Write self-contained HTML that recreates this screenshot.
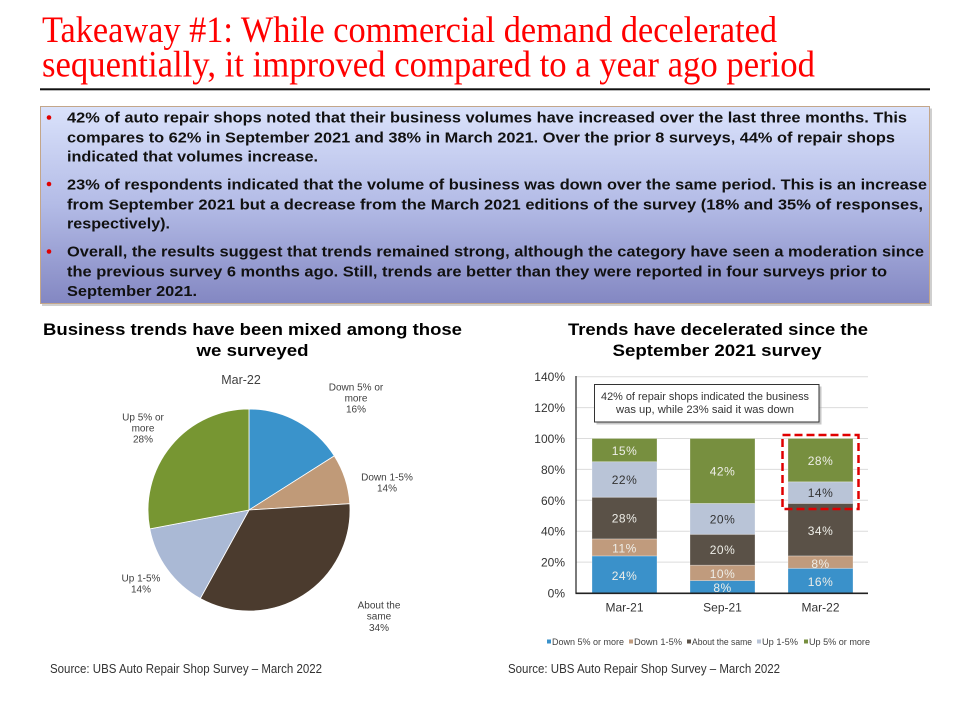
<!DOCTYPE html>
<html><head><meta charset="utf-8"><style>
html,body{margin:0;padding:0;background:#fff;}
svg{display:block;}
</style></head><body>
<svg width="968" height="708" viewBox="0 0 968 708" xmlns="http://www.w3.org/2000/svg">
<defs>
<linearGradient id="bg" x1="0" y1="0" x2="0" y2="1">
<stop offset="0" stop-color="#DAE2FB"/>
<stop offset="0.5" stop-color="#B3BBE6"/>
<stop offset="1" stop-color="#8387C2"/>
</linearGradient>
</defs>
<rect width="968" height="708" fill="#fff"/>
<!-- Title -->
<g font-family="Liberation Serif, serif" fill="#FF0000" font-size="37">
<text x="42" y="42" textLength="735" lengthAdjust="spacingAndGlyphs">Takeaway #1: While commercial demand decelerated</text>
<text x="42" y="76.5" textLength="773" lengthAdjust="spacingAndGlyphs">sequentially, it improved compared to a year ago period</text>
</g>
<rect x="40" y="88.3" width="890" height="2" fill="#111"/>
<!-- Bullet box -->
<rect x="42" y="108.5" width="890" height="197.5" fill="#a0a0a0" opacity="0.5"/>
<rect x="40.5" y="106.5" width="889" height="197" fill="url(#bg)" stroke="#C3A68A" stroke-width="1"/>
<g fill="#E00000">
<circle cx="49" cy="117.5" r="2.3"/>
<circle cx="49" cy="184" r="2.3"/>
<circle cx="49" cy="251.5" r="2.3"/>
</g>
<g font-family="Liberation Sans, sans-serif" font-weight="bold" font-size="15" fill="#111">
<text x="67" y="122.7" textLength="840" lengthAdjust="spacingAndGlyphs">42% of auto repair shops noted that their business volumes have increased over the last three months. This</text>
<text x="67" y="142.7" textLength="828" lengthAdjust="spacingAndGlyphs">compares to 62% in September 2021 and 38% in March 2021. Over the prior 8 surveys, 44% of repair shops</text>
<text x="67" y="161.7" textLength="251" lengthAdjust="spacingAndGlyphs">indicated that volumes increase.</text>
<text x="67" y="189.3" textLength="860" lengthAdjust="spacingAndGlyphs">23% of respondents indicated that the volume of business was down over the same period. This is an increase</text>
<text x="67" y="209.3" textLength="856" lengthAdjust="spacingAndGlyphs">from September 2021 but a decrease from the March 2021 editions of the survey (18% and 35% of responses,</text>
<text x="67" y="228.5" textLength="103" lengthAdjust="spacingAndGlyphs">respectively).</text>
<text x="67" y="256.7" textLength="857" lengthAdjust="spacingAndGlyphs">Overall, the results suggest that trends remained strong, although the category have seen a moderation since</text>
<text x="67" y="276.7" textLength="820" lengthAdjust="spacingAndGlyphs">the previous survey 6 months ago. Still, trends are better than they were reported in four surveys prior to</text>
<text x="67" y="296" textLength="130" lengthAdjust="spacingAndGlyphs">September 2021.</text>
</g>
<!-- Chart titles -->
<g font-family="Liberation Sans, sans-serif" font-weight="bold" font-size="16.5" fill="#000" text-anchor="middle">
<text x="252.5" y="335" textLength="419" lengthAdjust="spacingAndGlyphs">Business trends have been mixed among those</text>
<text x="252.5" y="356" textLength="112" lengthAdjust="spacingAndGlyphs">we surveyed</text>
<text x="718" y="335" textLength="300" lengthAdjust="spacingAndGlyphs">Trends have decelerated since the</text>
<text x="717" y="356" textLength="209" lengthAdjust="spacingAndGlyphs">September 2021 survey</text>
</g>
<!-- Pie -->
<g stroke="#fff" stroke-width="0.8">
<path d="M249,510 L249,409 A101,101 0 0 1 334.3,455.9 Z" fill="#3A93CB"/>
<path d="M249,510 L334.3,455.9 A101,101 0 0 1 349.8,503.7 Z" fill="#C09A78"/>
<path d="M249,510 L349.8,503.7 A101,101 0 0 1 200.3,598.5 Z" fill="#4B3B2E"/>
<path d="M249,510 L200.3,598.5 A101,101 0 0 1 149.8,528.9 Z" fill="#AAB9D5"/>
<path d="M249,510 L149.8,528.9 A101,101 0 0 1 249,409 Z" fill="#779632"/>
</g>
<g font-family="Liberation Sans, sans-serif" fill="#404040" text-anchor="middle">
<text x="241" y="384" font-size="12.5">Mar-22</text>
<g font-size="10">
<text x="356" y="390.5">Down 5% or</text>
<text x="356" y="401.5">more</text>
<text x="356" y="412.5">16%</text>
<text x="387" y="480.5">Down 1-5%</text>
<text x="387" y="491.5">14%</text>
<text x="379" y="608.5">About the</text>
<text x="379" y="619.5">same</text>
<text x="379" y="631">34%</text>
<text x="141" y="581.5">Up 1-5%</text>
<text x="141" y="592.5">14%</text>
<text x="143" y="420.5">Up 5% or</text>
<text x="143" y="431.5">more</text>
<text x="143" y="442.5">28%</text>
</g>
</g>
<!-- Bar chart grid -->
<g stroke="#DCDCDC" stroke-width="1">
<line x1="576" y1="376.7" x2="868" y2="376.7"/>
<line x1="576" y1="407.6" x2="868" y2="407.6"/>
<line x1="576" y1="438.5" x2="868" y2="438.5"/>
<line x1="576" y1="469.4" x2="868" y2="469.4"/>
<line x1="576" y1="500.3" x2="868" y2="500.3"/>
<line x1="576" y1="531.2" x2="868" y2="531.2"/>
<line x1="576" y1="562.1" x2="868" y2="562.1"/>
</g>
<g font-family="Liberation Sans, sans-serif" font-size="12" fill="#333" text-anchor="end">
<text x="565" y="381">140%</text>
<text x="565" y="412">120%</text>
<text x="565" y="443">100%</text>
<text x="565" y="474">80%</text>
<text x="565" y="505">60%</text>
<text x="565" y="535.5">40%</text>
<text x="565" y="566.5">20%</text>
<text x="565" y="597.5">0%</text>
</g>
<!-- Bars -->
<g stroke="#ffffff" stroke-opacity="0.35" stroke-width="0.8">
<rect x="592" y="555.9" width="65" height="37.1" fill="#3A91CA"/>
<rect x="592" y="538.9" width="65" height="17" fill="#C09B7D"/>
<rect x="592" y="497.2" width="65" height="41.7" fill="#5A5147"/>
<rect x="592" y="461.7" width="65" height="35.5" fill="#B9C4D7"/>
<rect x="592" y="438.5" width="65" height="23.2" fill="#778F3F"/>

<rect x="690" y="580.6" width="65" height="12.4" fill="#3A91CA"/>
<rect x="690" y="565.2" width="65" height="15.4" fill="#C09B7D"/>
<rect x="690" y="534.3" width="65" height="30.9" fill="#5A5147"/>
<rect x="690" y="503.4" width="65" height="30.9" fill="#B9C4D7"/>
<rect x="690" y="438.5" width="65" height="64.9" fill="#778F3F"/>

<rect x="788" y="568.3" width="65" height="24.7" fill="#3A91CA"/>
<rect x="788" y="555.9" width="65" height="12.4" fill="#C09B7D"/>
<rect x="788" y="503.4" width="65" height="52.5" fill="#5A5147"/>
<rect x="788" y="481.8" width="65" height="21.6" fill="#B9C4D7"/>
<rect x="788" y="438.5" width="65" height="43.3" fill="#778F3F"/>
</g>
<g font-family="Liberation Sans, sans-serif" font-size="12" text-anchor="middle" letter-spacing="0.5">
<g fill="#EEEEE8">
<text x="624.5" y="455">15%</text>
<text x="624.5" y="522.5">28%</text>
<text x="624.5" y="552.5">11%</text>
<text x="624.5" y="580">24%</text>
<text x="722.5" y="475.5">42%</text>
<text x="722.5" y="554">20%</text>
<text x="722.5" y="578">10%</text>
<text x="722.5" y="592">8%</text>
<text x="820.5" y="465">28%</text>
<text x="820.5" y="535">34%</text>
<text x="820.5" y="568">8%</text>
<text x="820.5" y="586">16%</text>
</g>
<g fill="#333">
<text x="624.5" y="484">22%</text>
<text x="722.5" y="523.5">20%</text>
<text x="820.5" y="497">14%</text>
</g>
</g>
<!-- axes -->
<line x1="576" y1="376" x2="576" y2="593.5" stroke="#333" stroke-width="1.3"/>
<line x1="575.5" y1="593.3" x2="868" y2="593.3" stroke="#222" stroke-width="1.6"/>
<g font-family="Liberation Sans, sans-serif" font-size="12" fill="#333" text-anchor="middle">
<text x="624.5" y="611.5">Mar-21</text>
<text x="722.5" y="611.5">Sep-21</text>
<text x="820.5" y="611.5">Mar-22</text>
</g>
<!-- annotation box -->
<rect x="596.5" y="386.5" width="225" height="38" fill="#999" opacity="0.55"/>
<rect x="594.5" y="384.5" width="224.5" height="37.5" fill="#fff" stroke="#333" stroke-width="1"/>
<g font-family="Liberation Sans, sans-serif" font-size="11" fill="#333" text-anchor="middle">
<text x="705" y="400" textLength="208" lengthAdjust="spacingAndGlyphs">42% of repair shops indicated the business</text>
<text x="705" y="413" textLength="178" lengthAdjust="spacingAndGlyphs">was up, while 23% said it was down</text>
</g>
<!-- dashed highlight -->
<rect x="782.5" y="435" width="76" height="74" fill="none" stroke="#E00000" stroke-width="2.5" stroke-dasharray="8,4"/>
<!-- legend -->
<g font-family="Liberation Sans, sans-serif" font-size="9" fill="#404040">
<rect x="547" y="639.5" width="4" height="4" fill="#3A91CA"/>
<text x="552" y="645" textLength="72" lengthAdjust="spacingAndGlyphs">Down 5% or more</text>
<rect x="629" y="639.5" width="4" height="4" fill="#C09B7D"/>
<text x="634" y="645" textLength="48" lengthAdjust="spacingAndGlyphs">Down 1-5%</text>
<rect x="687" y="639.5" width="4" height="4" fill="#5A5147"/>
<text x="692" y="645" textLength="60" lengthAdjust="spacingAndGlyphs">About the same</text>
<rect x="757" y="639.5" width="4" height="4" fill="#B9C4D7"/>
<text x="762" y="645" textLength="36" lengthAdjust="spacingAndGlyphs">Up 1-5%</text>
<rect x="804" y="639.5" width="4" height="4" fill="#778F3F"/>
<text x="809" y="645" textLength="61" lengthAdjust="spacingAndGlyphs">Up 5% or more</text>
</g>
<!-- sources -->
<g font-family="Liberation Sans, sans-serif" font-size="12.5" fill="#333">
<text x="50" y="673" textLength="272" lengthAdjust="spacingAndGlyphs">Source: UBS Auto Repair Shop Survey – March 2022</text>
<text x="508" y="673" textLength="272" lengthAdjust="spacingAndGlyphs">Source: UBS Auto Repair Shop Survey – March 2022</text>
</g>
</svg>
</body></html>
